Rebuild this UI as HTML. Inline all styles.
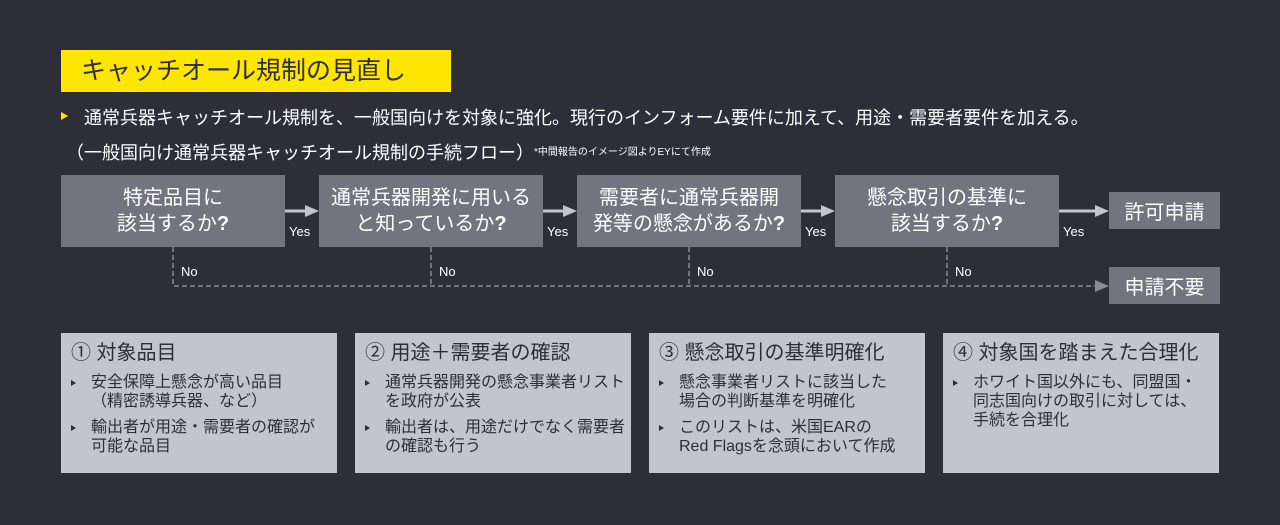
<!DOCTYPE html>
<html><head><meta charset="utf-8"><style>
body{margin:0;width:1280px;height:525px;background:#2e2e38;font-family:"Liberation Sans","Noto Sans CJK JP",sans-serif;color:#fff;position:relative;overflow:hidden}
.a{position:absolute}
.title{left:61px;top:50px;width:390px;height:42px;background:#ffe600;color:#2e2e38;font-size:25px;line-height:42px;padding-left:20px;box-sizing:border-box}
.fb{background:#747480;width:224px;height:72px;top:175px;display:flex;align-items:center;justify-content:center;text-align:center;font-size:20px;line-height:26px}
.rb{background:#747480;width:111px;height:37px;left:1109px;display:flex;align-items:center;justify-content:center;font-size:20px}
.lbl{font-size:13px}
.card{background:#c4c4cc;width:276px;height:140px;top:333px;color:#2e2e38;box-sizing:border-box;padding:8px 4px 8px 10px}
.card h3{margin:0 0 8px;font-weight:normal;font-size:20px;line-height:24px}
.card .it{position:relative;padding-left:20px;font-size:16px;line-height:19px;margin-bottom:7px}
.card .it:before{content:"";position:absolute;left:0;top:7px;border-left:5px solid #2e2e38;border-top:3px solid transparent;border-bottom:3px solid transparent}
</style></head><body>
<div class="a title">キャッチオール規制の見直し</div>
<div class="a" style="left:61px;width:0;height:0;border-left:7px solid #ffe600;border-top:4px solid transparent;border-bottom:4px solid transparent;top:112px"></div>
<div class="a" style="left:84px;top:104px;font-size:18px">通常兵器キャッチオール規制を、一般国向けを対象に強化。現行のインフォーム要件に加えて、用途・需要者要件を加える。</div>
<div class="a" style="left:66px;top:139px;font-size:18px">（一般国向け通常兵器キャッチオール規制の手続フロー）<span style="font-size:10px;vertical-align:4px">*中間報告のイメージ図よりEYにて作成</span></div>

<div class="a fb" style="left:61px"><div>特定品目に<br>該当するか<b>?</b></div></div>
<div class="a fb" style="left:319px"><div>通常兵器開発に用いる<br>と知っているか<b>?</b></div></div>
<div class="a fb" style="left:577px"><div>需要者に通常兵器開<br>発等の懸念があるか<b>?</b></div></div>
<div class="a fb" style="left:835px"><div>懸念取引の基準に<br>該当するか<b>?</b></div></div>
<div class="a rb" style="top:192px">許可申請</div>
<div class="a rb" style="top:267px">申請不要</div>

<svg class="a" style="left:0;top:0" width="1280" height="525">
<g stroke="#c4c4cc" stroke-width="3" fill="#c4c4cc">
<line x1="285" y1="211" x2="307" y2="211"/><polygon points="305,205 319,211 305,217" stroke="none"/>
<line x1="543" y1="211" x2="565" y2="211"/><polygon points="563,205 577,211 563,217" stroke="none"/>
<line x1="801" y1="211" x2="823" y2="211"/><polygon points="821,205 835,211 821,217" stroke="none"/>
<line x1="1059" y1="211" x2="1097" y2="211"/><polygon points="1095,205 1109,211 1095,217" stroke="none"/>
</g>
<g stroke="#8a8a94" stroke-width="1.5" fill="none" stroke-dasharray="5,3">
<path d="M173 247V286H1097"/><path d="M431 247V286"/><path d="M689 247V286"/><path d="M947 247V286"/>
</g>
<polygon points="1095,280 1109,286 1095,292" fill="#8a8a94"/>
</svg>
<div class="a lbl" style="left:289px;top:224px">Yes</div>
<div class="a lbl" style="left:547px;top:224px">Yes</div>
<div class="a lbl" style="left:805px;top:224px">Yes</div>
<div class="a lbl" style="left:1063px;top:224px">Yes</div>
<div class="a lbl" style="left:181px;top:264px">No</div>
<div class="a lbl" style="left:439px;top:264px">No</div>
<div class="a lbl" style="left:697px;top:264px">No</div>
<div class="a lbl" style="left:955px;top:264px">No</div>

<div class="a card" style="left:61px"><h3>① 対象品目</h3><div class="it">安全保障上懸念が高い品目<br>（精密誘導兵器、など）</div><div class="it">輸出者が用途・需要者の確認が<br>可能な品目</div></div>
<div class="a card" style="left:355px"><h3>② 用途＋需要者の確認</h3><div class="it">通常兵器開発の懸念事業者リスト<br>を政府が公表</div><div class="it">輸出者は、用途だけでなく需要者<br>の確認も行う</div></div>
<div class="a card" style="left:649px"><h3>③ 懸念取引の基準明確化</h3><div class="it">懸念事業者リストに該当した<br>場合の判断基準を明確化</div><div class="it">このリストは、米国EARの<br>Red Flagsを念頭において作成</div></div>
<div class="a card" style="left:943px"><h3>④ 対象国を踏まえた合理化</h3><div class="it">ホワイト国以外にも、同盟国・<br>同志国向けの取引に対しては、<br>手続を合理化</div></div>
</body></html>
